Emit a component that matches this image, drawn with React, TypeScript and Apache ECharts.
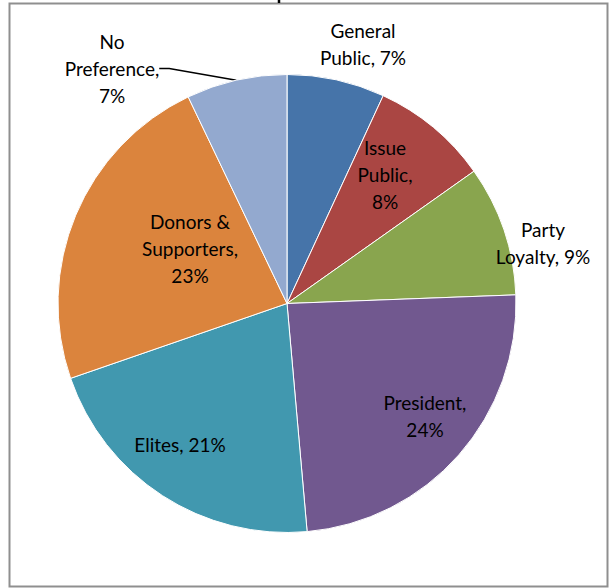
import React, { useEffect, useRef } from "react";
import * as echarts from "echarts";

const categories = [
  "General\nPublic",
  "Issue\nPublic",
  "Party\nLoyalty",
  "President",
  "Elites",
  "Donors &\nSupporters",
  "No\nPreference",
];
const values = [6.9, 8.3, 9.2, 24.2, 21.1, 23.2, 7.1];
const colors = ["#4674A9", "#AA4643", "#89A54E", "#71588F", "#4198AF", "#DB843D", "#93A9CF"];

// whether the percent goes on its own line
const percentOnNewLine = [false, true, false, true, false, true, true];

export default function App() {
  const ref = useRef<HTMLDivElement>(null);
  useEffect(() => {
    if (!ref.current) return;
    const chart = echarts.init(ref.current, null, { renderer: "svg" });
    const cx = 287;
    const cy = 303.5;
    const R = 229;
    // label centers, relative to pie centre
    const labelOffsets: [number, number][] = [
      [76, -260],
      [98, -129],
      [256, -61],
      [138, 112],
      [-107, 141],
      [-97, -55],
      [-175, -235],
    ];
    const total = values.reduce((a, b) => a + b, 0);
    const data = categories.map((c, i) => {
      const pct = Math.round((values[i] / total) * 100);
      const text = c + (percentOnNewLine[i] ? ",\n" : ", ") + pct + "%";
      const withLine = i === 6;
      return {
        name: c,
        value: values[i],
        itemStyle: { color: colors[i] },
        label: {
          formatter: text,
          position: withLine ? "outside" : "inside",
        },
        labelLine: { show: withLine, length: 10, length2: 10 },
      };
    });
    chart.setOption({
      animation: false,
      graphic: [
        {
          type: "rect",
          shape: { x: 9.5, y: 3.5, width: 598, height: 583 },
          style: { fill: "none", stroke: "#8f8f8f", lineWidth: 2 },
          z: 10,
        },
        {
          type: "line",
          shape: { x1: 279, y1: 0, x2: 279, y2: 3 },
          style: { stroke: "#000", lineWidth: 2.5 },
          z: 11,
        },
      ],
      series: [
        {
          type: "pie",
          center: [cx, cy],
          radius: R,
          startAngle: 90,
          clockwise: true,
          silent: true,
          itemStyle: { borderColor: "#ffffff", borderWidth: 1 },
          label: {
            show: true,
            color: "#000",
            fontFamily: "Lato",
            fontSize: 19,
            lineHeight: 27,
            align: "center",
            overflow: "none",
          },
          labelLine: {
            lineStyle: { color: "#000", width: 1.5 },
            smooth: false,
          },
          labelLayout: (params: any) => {
            const o = labelOffsets[params.dataIndex];
            return {
              x: cx + o[0],
              y: cy + o[1],
              align: "center",
              verticalAlign: "middle",
            };
          },
          data,
        },
      ],
    });
    return () => chart.dispose();
  }, []);
  return (
    <div
      ref={ref}
      style={{ position: "fixed", left: 0, top: 0, width: 610, height: 588, background: "#fff" }}
    />
  );
}
